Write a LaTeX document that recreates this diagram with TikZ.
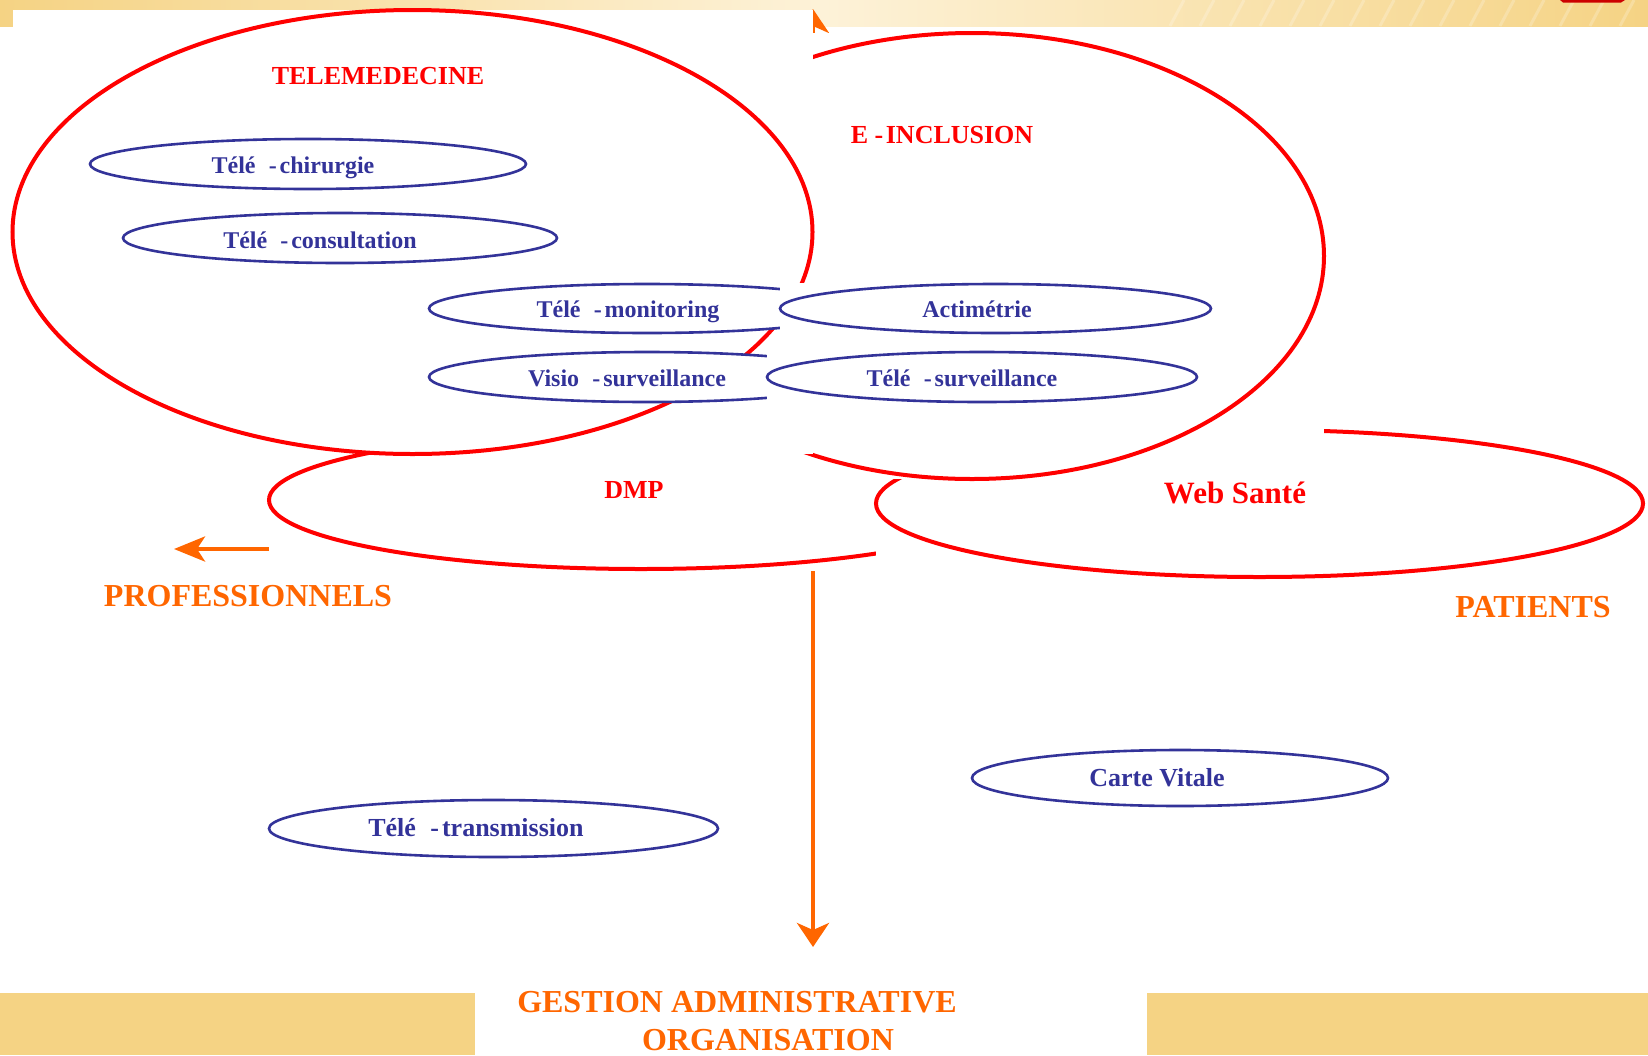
\documentclass[tikz,border=0pt]{standalone}
\usepackage{fontspec}
\setmainfont{Liberation Serif}
\usetikzlibrary{arrows.meta}

\definecolor{rouge}{HTML}{FF0000}
\definecolor{bleu}{HTML}{333399}
\definecolor{orangeppt}{HTML}{FF6600}
\definecolor{bande}{HTML}{F5D384}
\definecolor{bandeclair}{HTML}{FDF2D8}

\newcommand\tiret{\hspace{0.55em}-\hspace{0.12em}}

\tikzset{
  titre/.style={text=rouge, font=\bfseries\fontsize{13}{15}\selectfont, inner sep=0pt},
  legende/.style={text=bleu, font=\bfseries\fontsize{12}{14}\selectfont, inner sep=0pt},
  public/.style={text=orangeppt, font=\bfseries\fontsize{16}{18}\selectfont, inner sep=0pt},
  grande/.style={draw=rouge, line width=2pt, fill=white},
  petite/.style={draw=bleu, line width=1.3pt, fill=white},
  fleche/.style={draw=orangeppt, line width=2.2pt},
}

\begin{document}
\begin{tikzpicture}[x=0.5pt, y=-0.5pt]
\useasboundingbox (0,0) rectangle (1648,1055);

% Bandeaux du fond
\shade[left color=bande, right color=bande, middle color=bandeclair] (0,0) rectangle (1648,26);
\foreach \x in {1170,1200,...,1620}
  \draw[white, opacity=0.22, line width=1.5pt] (\x,26) -- (\x+14,0);
\fill[red!80!black] (1560,0) -- (1625,0) -- (1621,2.5) -- (1563,2.5) -- cycle;
\fill[bande] (0,993) rectangle (475,1055);
\fill[bande] (1147,993) rectangle (1648,1055);

% Flèche vers le haut (cachée en partie)
\coordinate (haut-a) at (813,300);
\coordinate (haut-b) at (813,9);
\draw[fleche, -{Stealth[length=12pt, width=16pt, inset=3.5pt]}] (haut-a) -- (haut-b);

% DMP
\filldraw[grande] (641,500) ellipse [x radius=372, y radius=69];

% Web Santé
\fill[white] (876,430) rectangle (1643,577);
\filldraw[grande] (1259.5,503.5) ellipse [x radius=383.5, y radius=73.5];

% E-inclusion
\fill[white] (620,33) rectangle (1324,479);
\filldraw[grande] (972,256) ellipse [x radius=352, y radius=223];

% Télémédecine
\fill[white] (13,10) rectangle (813,454);
\filldraw[grande] (412.5,232) ellipse [x radius=400, y radius=222];

% Petites ellipses
\filldraw[petite] (308,164) ellipse [x radius=218, y radius=25];
\filldraw[petite] (340,238) ellipse [x radius=217, y radius=25];
\filldraw[petite] (647,308.5) ellipse [x radius=218, y radius=24.5];
\filldraw[petite] (647,377) ellipse [x radius=218, y radius=25];
\fill[white] (780,283) rectangle (1212,334);
\filldraw[petite] (995.5,308.5) ellipse [x radius=215.5, y radius=24.5];
\fill[white] (767,351) rectangle (1198,403);
\filldraw[petite] (982,377) ellipse [x radius=215, y radius=25];
\filldraw[petite] (1180,778) ellipse [x radius=208, y radius=28];
\filldraw[petite] (493.5,828.5) ellipse [x radius=224.5, y radius=28.5];

% Noms des ensembles
\node[titre] (t-telemed) at (378,76) {TELEMEDECINE};
\node[titre] (t-inclu) at (942,135) {E\hspace{0.25em}-\hspace{0.1em}INCLUSION};
\node[titre] (t-dmp) at (634,490) {DMP};
\node[titre, font=\bfseries\fontsize{15.5}{18}\selectfont] (t-web) at (1235,493) {Web Santé};

% Noms des services
\node[legende] (t-chir) at (293,168) {Télé\tiret chirurgie};
\node[legende] (t-cons) at (320,240) {Télé\tiret consultation};
\node[legende] (t-moni) at (628,312) {Télé\tiret monitoring};
\node[legende] (t-visio) at (627,378) {Visio\tiret surveillance};
\node[legende] (t-acti) at (977,309) {Actimétrie};
\node[legende] (t-surv) at (962,378) {Télé\tiret surveillance};
\node[legende, font=\bfseries\fontsize{13}{15}\selectfont] (t-carte) at (1157,778) {Carte Vitale};
\node[legende, font=\bfseries\fontsize{13}{15}\selectfont] (t-trans) at (476,828) {Télé\tiret transmission};

% Publics
\node[public] (t-pro) at (248,596) {PROFESSIONNELS};
\node[public] (t-pat) at (1533,607) {PATIENTS};
\node[public] (t-gest) at (737,1002) {GESTION ADMINISTRATIVE};
\node[public] (t-orga) at (768,1040) {ORGANISATION};

% Flèches
\coordinate (pro-a) at (269,549);
\coordinate (pro-b) at (174,549);
\draw[fleche, -{Stealth[length=15.5pt, width=12.5pt, inset=4pt]}] (pro-a) -- (pro-b);
\coordinate (gest-a) at (813,571);
\coordinate (gest-b) at (813,947);
\draw[fleche, -{Stealth[length=12pt, width=16pt, inset=3.5pt]}] (gest-a) -- (gest-b);

\end{tikzpicture}
\end{document}
